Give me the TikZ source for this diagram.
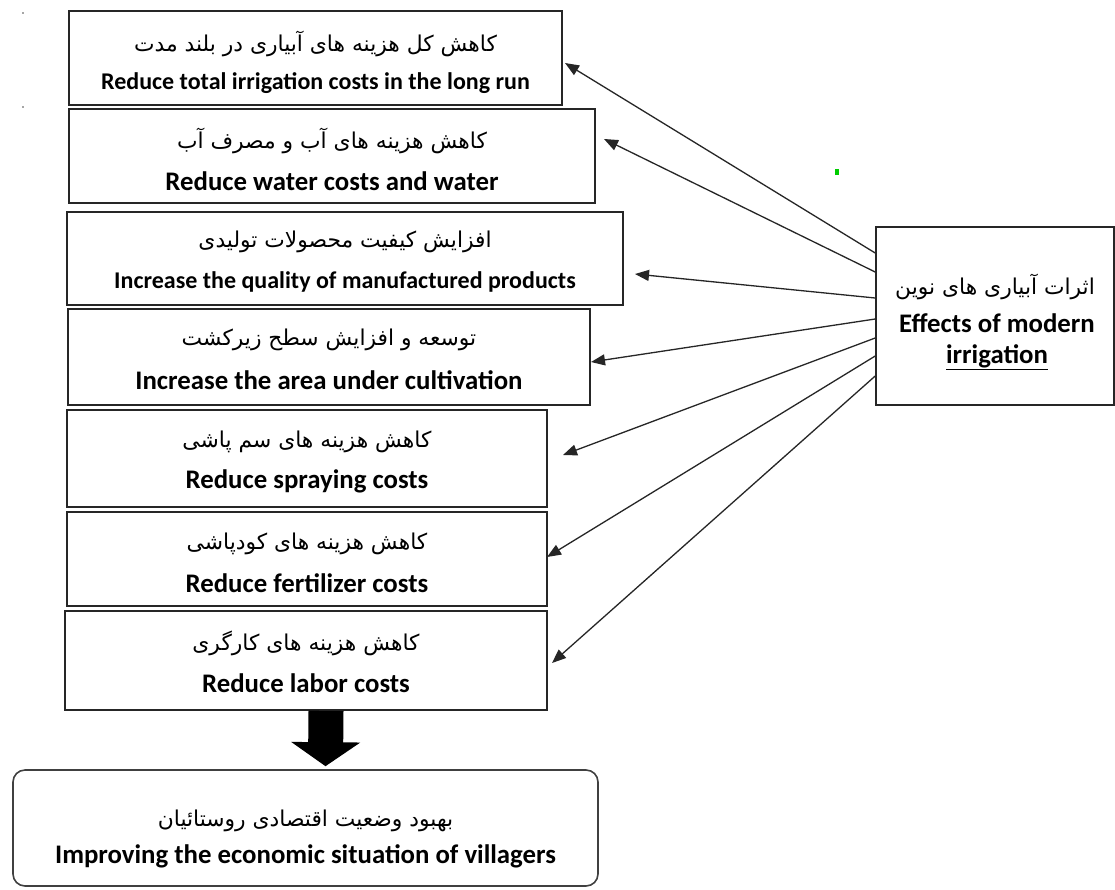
\documentclass[tikz,border=0pt]{standalone}
\usepackage{fontspec}
\setmainfont{Carlito}
\newfontfamily\fafont[Script=Arabic]{DejaVu Sans}
\TeXXeTstate=1
\usetikzlibrary{arrows.meta, calc}

\tikzset{
  box/.style={draw=black!85, line width=1.6pt, inner sep=0pt},
  fa/.style={font=\fafont\fontsize{21.8}{26}\selectfont, inner sep=0pt},
  en/.style={font=\bfseries\fontsize{26.8}{31}\selectfont, inner sep=0pt},
  ensmall/.style={font=\bfseries\fontsize{24}{28}\selectfont, inner sep=0pt},
  conn/.style={draw=black!85, line width=1.3pt, -{Triangle[length=14pt,width=11pt]}},
}

\begin{document}
\begin{tikzpicture}[x=1pt, y=-1pt]
    \fill[white] (0,0) rectangle (1115,889);
    \useasboundingbox (0,0) rectangle (1115,889);

    % Effects (left column)
    \node[box, minimum width=493pt, minimum height=94pt] (b1) at (315.5,58) {};
    \node[fa] (b1fa) at ([yshift=-34pt]b1.north) {\beginR کاهش کل هزینه های آبیاری در بلند مدت\endR};
    \node[ensmall] (b1en) at ([yshift=-73pt]b1.north) {Reduce total irrigation costs in the long run};

    \node[box, minimum width=526pt, minimum height=94pt] (b2) at (332,156) {};
    \node[fa] (b2fa) at ([yshift=-33pt]b2.north) {\beginR کاهش هزینه های آب و مصرف آب\endR};
    \node[en] (b2en) at ([yshift=-73pt]b2.north) {Reduce water costs and water};

    \node[box, minimum width=556pt, minimum height=93pt] (b3) at (345,258.5) {};
    \node[fa] (b3fa) at ([yshift=-31pt]b3.north) {\beginR افزایش کیفیت محصولات تولیدی\endR};
    \node[ensmall] (b3en) at ([yshift=-71pt]b3.north) {Increase the quality of manufactured products};

    \node[box, minimum width=522pt, minimum height=96pt] (b4) at (329,357) {};
    \node[fa] (b4fa) at ([yshift=-32pt]b4.north) {\beginR توسعه و افزایش سطح زیرکشت\endR};
    \node[en] (b4en) at ([yshift=-72pt]b4.north) {Increase the area under cultivation};

    \node[box, minimum width=480pt, minimum height=97pt] (b5) at (307,458.5) {};
    \node[fa] (b5fa) at ([yshift=-33pt]b5.north) {\beginR کاهش هزینه های سم پاشی\endR};
    \node[en] (b5en) at ([yshift=-72pt]b5.north) {Reduce spraying costs};

    \node[box, minimum width=480pt, minimum height=94pt] (b6) at (307,559) {};
    \node[fa] (b6fa) at ([yshift=-33pt]b6.north) {\beginR کاهش هزینه های کودپاشی\endR};
    \node[en] (b6en) at ([yshift=-72pt]b6.north) {Reduce fertilizer costs};

    \node[box, minimum width=482pt, minimum height=99pt] (b7) at (306,660.5) {};
    \node[fa] (b7fa) at ([yshift=-33pt]b7.north) {\beginR کاهش هزینه های کارگری\endR};
    \node[en] (b7en) at ([yshift=-73pt]b7.north) {Reduce labor costs};

    % Result
    \node[box, rounded corners=12pt, draw=black!75, minimum width=585pt, minimum height=116pt] (res) at (305.5,828) {};
    \node[fa] (resfa) at ([yshift=-52pt]res.north) {\beginR بهبود وضعیت اقتصادی روستائیان\endR};
    \node[en] (resen) at ([yshift=-87pt]res.north) {Improving the economic situation of villagers};

    % Cause (right)
    \node[box, minimum width=238pt, minimum height=178pt] (eff) at (995,316) {};
    \node[fa] (efffa) at (995,287) {\beginR اثرات آبیاری های نوین\endR};
    \node[en] (effen1) at (997,323) {Effects of modern};
    \node[en] (effen2) at (997,357) {\underline{irrigation}};

    % arrow tips
    \coordinate (t1) at (565,63);
    \coordinate (t2) at (604,139);
    \coordinate (t3) at (635,274);
    \coordinate (t4) at (591,362);
    \coordinate (t5) at (563,455);
    \coordinate (t6) at (547,557);
    \coordinate (t7) at (552,663);

    \foreach \i/\dy in {1/63, 2/44, 3/18, 4/-3, 5/-22, 6/-40, 7/-60}
        \draw[conn] ([yshift=\dy pt]eff.west) -- (t\i);

    % big arrow down
    \draw[line width=35pt, black, -{Triangle[length=24pt,width=68pt]}]
        ([xshift=20pt]b7.south) -- ([xshift=20pt,yshift=3pt]res.north);

    % stray marks
    \fill[black!35] (22,12) rectangle (24,14);
    \fill[black!35] (22,106) rectangle (24,108);
    \fill[green!80!black] (835,169) rectangle (839,175);
\end{tikzpicture}
\end{document}
